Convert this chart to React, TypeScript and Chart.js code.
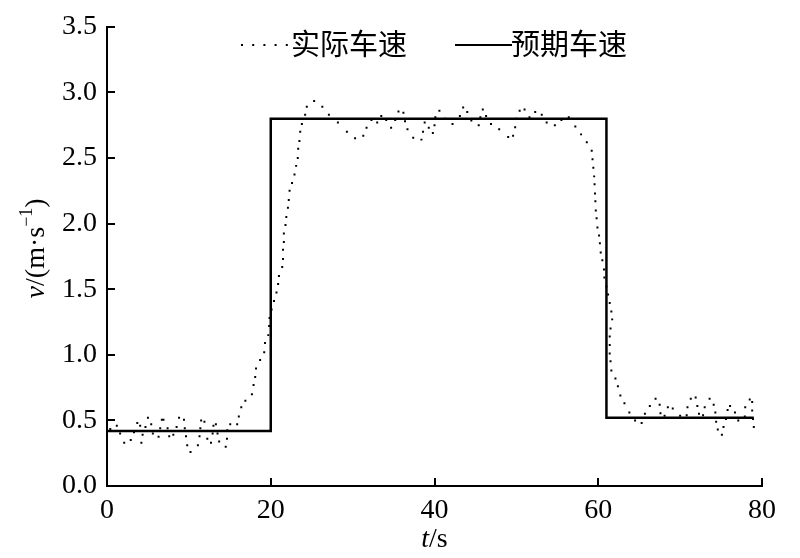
import React, { useEffect, useRef } from 'react';
import { Chart, registerables, Plugin } from 'chart.js';

Chart.register(...registerables);

const actualTime = [
  0.0, 0.4, 1.2, 1.6, 2.1, 2.9, 3.3, 3.7, 4.05, 4.2, 4.35, 4.7, 5.0, 5.4, 5.6, 6.3, 6.5, 6.7, 6.9, 7.4,
  7.6, 8.1, 8.5, 8.8, 9.4, 9.5, 9.65, 9.8, 10.2, 11.1, 11.3, 11.4, 11.5, 11.9, 12.1, 12.25, 12.7, 12.9, 13.0, 13.3,
  13.5, 13.7, 14.5, 14.65, 14.7, 15.05, 15.9, 16.1, 16.4, 16.9, 17.7, 17.9, 18.1, 18.2, 18.7, 19.2, 19.3, 19.7, 19.8, 19.85,
  20.1, 20.4, 20.7, 20.9, 21.0, 21.4, 21.5, 21.5, 21.6, 21.6, 21.8, 21.9, 22.1, 22.2, 22.3, 22.6, 22.9, 23.1, 23.3, 23.35,
  23.5, 23.6, 23.8, 24.2, 24.4, 25.3, 26.3, 27.1, 28.2, 29.3, 30.3, 31.3, 31.7, 32.3, 33.0, 33.5, 34.1, 34.7, 35.2, 35.6,
  36.2, 36.4, 36.7, 37.4, 38.4, 38.6, 38.8, 39.3, 39.8, 40.0, 40.1, 40.6, 41.3, 42.2, 43.1, 43.5, 44.0, 44.5, 45.4, 45.6,
  45.9, 46.3, 46.9, 47.9, 49.0, 49.6, 49.85, 50.0, 50.4, 51.0, 51.6, 52.3, 53.1, 53.7, 54.7, 55.5, 56.4, 57.2, 57.9, 58.6,
  59.2, 59.3, 59.4, 59.5, 59.55, 59.6, 59.65, 59.7, 59.8, 59.9, 60.1, 60.2, 60.3, 60.5, 60.7, 60.75, 61.0, 61.2, 61.4, 61.6,
  61.7, 61.5, 61.4, 61.4, 61.4, 61.5, 61.6, 62.1, 62.4, 62.7, 63.2, 63.8, 64.5, 65.3, 65.7, 66.3, 67.0, 67.5, 67.6, 68.1,
  68.5, 69.1, 70.0, 70.8, 70.9, 71.3, 71.9, 72.1, 72.3, 72.8, 73.0, 73.6, 74.1, 74.3, 74.4, 74.6, 75.1, 75.3, 75.6, 75.8,
  76.1, 76.7, 77.1, 77.9, 77.95, 78.5, 78.8, 78.8, 78.9, 79.0,
];
const actualSpeed = [
  0.36, 0.435, 0.46, 0.40, 0.33, 0.35, 0.41, 0.48, 0.46, 0.33, 0.39, 0.45, 0.52, 0.47, 0.40, 0.375, 0.44, 0.505, 0.505, 0.44,
  0.38, 0.39, 0.45, 0.52, 0.505, 0.44, 0.38, 0.31, 0.26, 0.31, 0.38, 0.44, 0.50, 0.49, 0.42, 0.36, 0.33, 0.40, 0.46, 0.47,
  0.40, 0.34, 0.30, 0.36, 0.425, 0.47, 0.47, 0.53, 0.60, 0.65, 0.70, 0.77, 0.83, 0.895, 0.96, 1.02, 1.09, 1.15, 1.22, 1.28,
  1.345, 1.41, 1.475, 1.54, 1.60, 1.67, 1.73, 1.80, 1.86, 1.925, 1.99, 2.05, 2.12, 2.18, 2.25, 2.31, 2.375, 2.44, 2.50, 2.57,
  2.63, 2.70, 2.76, 2.83, 2.89, 2.935, 2.89, 2.83, 2.77, 2.70, 2.65, 2.67, 2.73, 2.79, 2.77, 2.82, 2.79, 2.73, 2.79, 2.855,
  2.845, 2.78, 2.72, 2.655, 2.64, 2.70, 2.77, 2.73, 2.69, 2.75, 2.81, 2.86, 2.80, 2.76, 2.82, 2.885, 2.85, 2.785, 2.75, 2.81,
  2.87, 2.82, 2.76, 2.72, 2.66, 2.67, 2.735, 2.80, 2.86, 2.87, 2.81, 2.85, 2.83, 2.77, 2.75, 2.79, 2.81, 2.74, 2.68, 2.62,
  2.555, 2.49, 2.425, 2.36, 2.30, 2.23, 2.17, 2.10, 2.04, 1.97, 1.91, 1.85, 1.78, 1.72, 1.65, 1.59, 1.52, 1.46, 1.395, 1.33,
  1.27, 1.20, 1.14, 1.075, 1.01, 0.95, 0.88, 0.82, 0.76, 0.69, 0.63, 0.56, 0.50, 0.48, 0.55, 0.61, 0.665, 0.62, 0.555, 0.535,
  0.60, 0.59, 0.535, 0.54, 0.60, 0.665, 0.675, 0.61, 0.55, 0.54, 0.60, 0.665, 0.62, 0.56, 0.49, 0.43, 0.39, 0.45, 0.51, 0.58,
  0.61, 0.56, 0.50, 0.53, 0.60, 0.66, 0.64, 0.575, 0.51, 0.45,
];

// expected (target) speed, step profile
const expectedTime = [0, 20, 20, 61, 61, 79];
const expectedSpeed = [0.42, 0.42, 2.8, 2.8, 0.52, 0.52];

const xTicks = [0, 20, 40, 60, 80];
const yTicks = [0, 0.5, 1.0, 1.5, 2.0, 2.5, 3.0, 3.5];
const seriesNames = ['实际车速', '预期车速'];

const SERIF = "'Liberation Serif', 'Times New Roman', serif";
const CJK = "'Noto Sans CJK SC', sans-serif";

// inward ticks, in-plot legend and axis titles
const decorations: Plugin<'line'> = {
  id: 'decorations',
  afterDraw(chart) {
    const { ctx, chartArea } = chart;
    const { left, right, top, bottom } = chartArea;
    const xs = chart.scales.x;
    const ys = chart.scales.y;
    ctx.save();
    ctx.strokeStyle = '#000';
    ctx.fillStyle = '#000';
    ctx.lineWidth = 2;

    // ticks pointing into the plot
    ctx.beginPath();
    ys.ticks.forEach((t) => {
      if (t.value === 0) return;
      const py = Math.round(ys.getPixelForValue(t.value));
      ctx.moveTo(left, py);
      ctx.lineTo(left + 8, py);
    });
    xs.ticks.forEach((t) => {
      if (t.value === 0) return;
      const px = Math.round(xs.getPixelForValue(t.value));
      ctx.moveTo(px, bottom);
      ctx.lineTo(px, bottom - 8);
    });
    ctx.stroke();

    // legend
    const ly = 45;
    ctx.beginPath();
    ctx.setLineDash([2, 9.2]);
    ctx.moveTo(241, ly);
    ctx.lineTo(289, ly);
    ctx.stroke();
    ctx.setLineDash([]);
    ctx.beginPath();
    ctx.moveTo(455, ly);
    ctx.lineTo(512, ly);
    ctx.stroke();
    ctx.font = `29px ${CJK}`;
    ctx.textBaseline = 'middle';
    ctx.textAlign = 'left';
    ctx.fillText(seriesNames[0], 291, ly - 1);
    ctx.fillText(seriesNames[1], 511, ly - 1);

    // x title: t/s
    ctx.textBaseline = 'alphabetic';
    const italic = `italic 28px ${SERIF}`;
    const upright = `28px ${SERIF}`;
    ctx.font = italic;
    const wt = ctx.measureText('t').width;
    ctx.font = upright;
    const ws = ctx.measureText('/s').width;
    let cx = (left + right) / 2 - (wt + ws) / 2;
    ctx.font = italic;
    ctx.fillText('t', cx, 547);
    ctx.font = upright;
    ctx.fillText('/s', cx + wt, 547);

    // y title: v/(m·s^-1), rotated
    const small = `18px ${SERIF}`;
    ctx.font = italic;
    const wv = ctx.measureText('v').width;
    ctx.font = upright;
    const wm = ctx.measureText('/(m·s').width;
    ctx.font = small;
    const we = ctx.measureText('−1').width;
    ctx.font = upright;
    const wp = ctx.measureText(')').width;
    const total = wv + wm + we + wp;
    ctx.translate(44, (top + bottom) / 2 - 8);
    ctx.rotate(-Math.PI / 2);
    cx = -total / 2;
    ctx.font = italic;
    ctx.fillText('v', cx, 0);
    cx += wv;
    ctx.font = upright;
    ctx.fillText('/(m·s', cx, 0);
    cx += wm;
    ctx.font = small;
    ctx.fillText('−1', cx, -12);
    cx += we;
    ctx.font = upright;
    ctx.fillText(')', cx, 0);
    ctx.restore();
  },
};

const App: React.FC = () => {
  const canvasRef = useRef<HTMLCanvasElement | null>(null);

  useEffect(() => {
    if (!canvasRef.current) return;
    const chart = new Chart(canvasRef.current, {
      type: 'line',
      data: {
        datasets: [
          {
            label: seriesNames[0],
            data: actualTime.map((t, i) => ({ x: t, y: actualSpeed[i] })),
            showLine: false,
            pointStyle: 'rect',
            pointRadius: 1.4,
            pointBackgroundColor: '#000',
            pointBorderWidth: 0,
            borderColor: '#000',
          },
          {
            label: seriesNames[1],
            data: expectedTime.map((t, i) => ({ x: t, y: expectedSpeed[i] })),
            borderColor: '#000',
            borderWidth: 2.5,
            pointRadius: 0,
            tension: 0,
          },
        ],
      },
      options: {
        animation: false,
        responsive: true,
        maintainAspectRatio: false,
        layout: { padding: { top: 17, right: 38, left: 0, bottom: 0 } },
        plugins: {
          legend: { display: false },
          tooltip: { enabled: false },
        },
        scales: {
          x: {
            type: 'linear',
            min: 0,
            max: 80,
            afterBuildTicks: (s) => { s.ticks = xTicks.map((v) => ({ value: v })); },
            afterFit: (s) => { s.height = 72; },
            grid: { display: false, drawTicks: false },
            border: { display: true, color: '#000', width: 2 },
            ticks: {
              color: '#000',
              padding: 8,
              maxRotation: 0,
              font: { family: SERIF, size: 28 },
            },
          },
          y: {
            type: 'linear',
            min: 0,
            max: 3.5,
            afterBuildTicks: (s) => { s.ticks = yTicks.map((v) => ({ value: v })); },
            afterFit: (s) => { s.width = 107; },
            grid: { display: false, drawTicks: false },
            border: { display: true, color: '#000', width: 2 },
            ticks: {
              color: '#000',
              padding: 10,
              font: { family: SERIF, size: 28 },
              callback: (v) => Number(v).toFixed(1),
            },
          },
        },
      },
      plugins: [decorations],
    });
    return () => chart.destroy();
  }, []);

  return (
    <div style={{ position: 'absolute', left: 0, top: 0, width: 800, height: 558, background: '#fff' }}>
      <canvas ref={canvasRef}></canvas>
    </div>
  );
};

export default App;
